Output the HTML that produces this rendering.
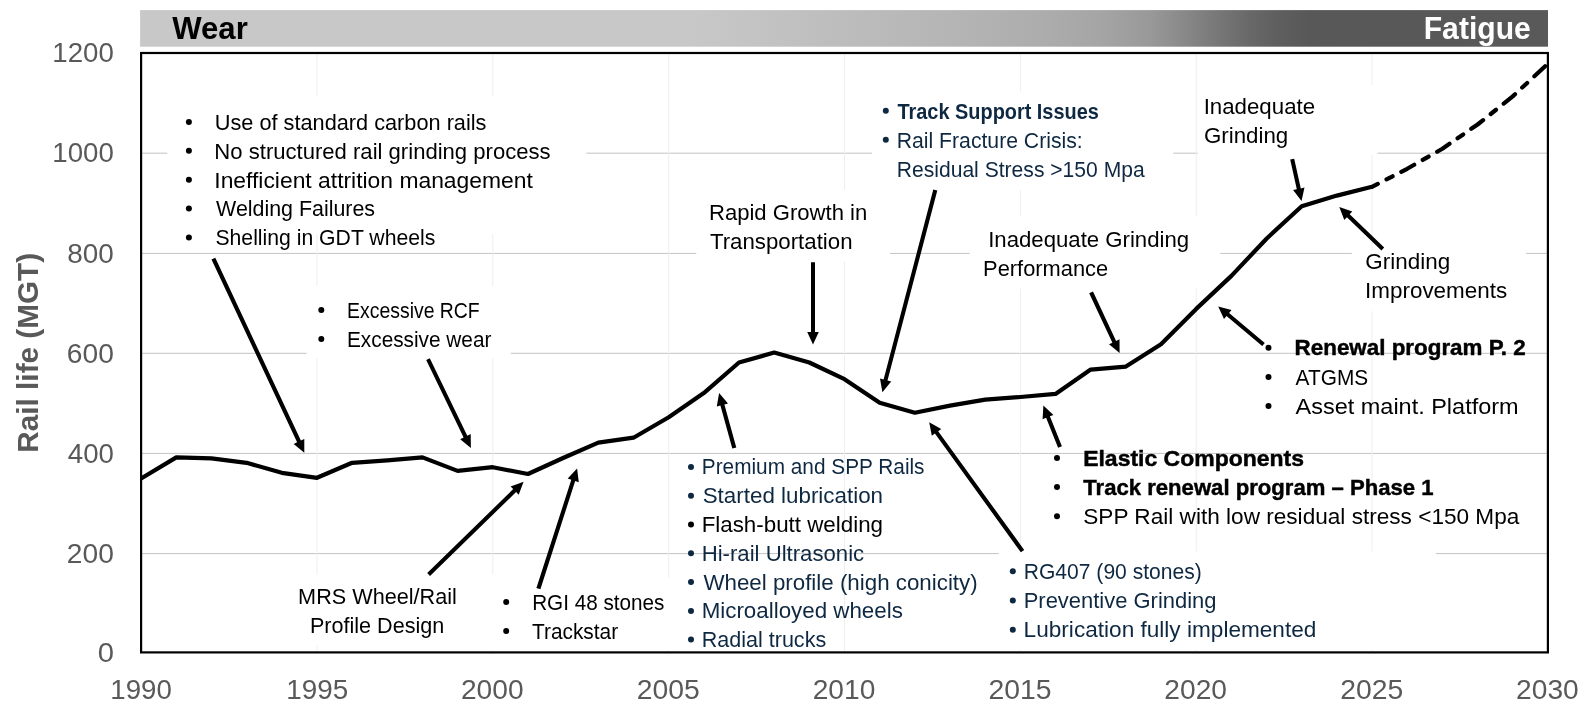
<!DOCTYPE html>
<html lang="en"><head><meta charset="utf-8"><title>Rail life chart</title>
<style>html,body{margin:0;padding:0;background:#fff}body{width:1593px;height:711px;overflow:hidden;font-family:"Liberation Sans", sans-serif}svg{display:block;will-change:transform}text{font-family:"Liberation Sans", sans-serif;white-space:pre}</style></head><body>
<svg width="1593" height="711" viewBox="0 0 1593 711">
<defs><linearGradient id="g" x1="0" y1="0" x2="1" y2="0">
<stop offset="0.0000" stop-color="#c8c8c8"/>
<stop offset="0.3906" stop-color="#c8c8c8"/>
<stop offset="0.4403" stop-color="#c3c3c3"/>
<stop offset="0.5042" stop-color="#bcbcbc"/>
<stop offset="0.5753" stop-color="#b5b5b5"/>
<stop offset="0.6392" stop-color="#adadad"/>
<stop offset="0.6818" stop-color="#a5a5a5"/>
<stop offset="0.7173" stop-color="#999999"/>
<stop offset="0.7422" stop-color="#888888"/>
<stop offset="0.7628" stop-color="#797979"/>
<stop offset="0.7883" stop-color="#686868"/>
<stop offset="0.8096" stop-color="#5e5e5e"/>
<stop offset="0.8310" stop-color="#585858"/>
<stop offset="1.0000" stop-color="#595959"/>
</linearGradient><clipPath id="cp"><rect x="141.1" y="53.0" width="1406.8" height="599.4"/></clipPath></defs>
<rect width="1593" height="711" fill="#fff"/>
<rect x="140.1" y="10.1" width="1407.9" height="36.6" fill="url(#g)"/>
<g stroke="#c3c3c3" stroke-width="1">
<line x1="141.1" y1="153.2" x2="1547.9" y2="153.2"/>
<line x1="141.1" y1="253.4" x2="1547.9" y2="253.4"/>
<line x1="141.1" y1="353.3" x2="1547.9" y2="353.3"/>
<line x1="141.1" y1="453.4" x2="1547.9" y2="453.4"/>
<line x1="141.1" y1="553.6" x2="1547.9" y2="553.6"/>
</g><g stroke="#eeeeee" stroke-width="1">
<line x1="317.0" y1="53.0" x2="317.0" y2="652.4"/>
<line x1="492.8" y1="53.0" x2="492.8" y2="652.4"/>
<line x1="668.7" y1="53.0" x2="668.7" y2="652.4"/>
<line x1="844.5" y1="53.0" x2="844.5" y2="652.4"/>
<line x1="1020.4" y1="53.0" x2="1020.4" y2="652.4"/>
<line x1="1196.2" y1="53.0" x2="1196.2" y2="652.4"/>
<line x1="1372.0" y1="53.0" x2="1372.0" y2="652.4"/>
</g>
<g fill="#fff">
<rect x="167.4" y="96.0" width="419.0" height="138.0"/>
<rect x="306.5" y="286.3" width="204.3" height="72.2"/>
<rect x="696.3" y="189.6" width="193.7" height="71.9"/>
<rect x="872.0" y="91.4" width="301.2" height="98.7"/>
<rect x="969.6" y="216.5" width="250.7" height="72.1"/>
<rect x="1197.8" y="85.0" width="179.7" height="70.0"/>
<rect x="1351.8" y="250.5" width="174.4" height="60.8"/>
<rect x="998.8" y="551.8" width="437.2" height="97.8"/>
<rect x="286.0" y="574.6" width="214.0" height="70.4"/>
<rect x="490.0" y="577.7" width="192.0" height="72.3"/>
</g>
<polyline points="141.1,478.5 176.3,457.4 211.4,458.4 246.6,462.8 281.8,472.8 317.0,477.8 352.1,462.8 387.3,460.3 422.5,457.4 457.6,470.9 492.8,467.2 528.0,474.0 563.1,458.0 598.3,442.6 633.5,437.7 668.7,417.3 703.8,393.1 739.0,362.5 774.2,352.6 809.3,362.5 844.5,379.2 879.7,402.8 914.8,412.7 950.0,405.6 985.2,399.6 1020.4,397.0 1055.5,393.9 1090.7,369.6 1125.9,366.6 1161.0,344.3 1196.2,308.9 1231.4,275.9 1266.5,238.7 1301.7,206.3 1336.9,195.6 1372.0,186.8" fill="none" stroke="#000" stroke-width="4.2" stroke-linejoin="round" stroke-linecap="butt"/>
<polyline points="1372.0,186.8 1407.2,168.8 1442.4,148.7 1477.6,124.5 1512.7,96.4 1547.9,63.7" fill="none" stroke="#000" stroke-width="4.2" stroke-linejoin="round" stroke-linecap="round" stroke-dasharray="6.5 9.8 6.8 9.8 14.7 9.8 6.8 9.8 14.7 9.8 6.8 9.8 14.7 9.8 6.8 9.8 14.7 9.8 6.8 9.8 14.7 9.8 6.8 9.8 14.7 9.8" clip-path="url(#cp)"/>
<rect x="141.1" y="53.0" width="1406.8" height="599.4" fill="none" stroke="#000" stroke-width="2.2"/>
<g fill="#000" stroke="none">
<polygon points="211.5,259.5 297.1,442.3 293.7,443.9 304.3,452.8 304.3,439.0 300.9,440.6 215.3,257.7"/>
<polygon points="426.2,360.0 463.6,437.5 460.2,439.2 470.9,447.9 470.7,434.1 467.3,435.8 429.8,358.2"/>
<polygon points="430.0,576.1 516.1,492.0 518.7,494.7 523.6,481.8 510.6,486.4 513.2,489.1 427.2,573.1"/>
<polygon points="540.4,589.2 575.2,481.0 578.8,482.2 577.1,468.5 567.7,478.6 571.3,479.8 536.4,588.0"/>
<polygon points="736.3,447.6 724.4,404.5 728.0,403.5 719.1,393.0 716.8,406.6 720.4,405.6 732.3,448.6"/>
<polygon points="811.0,262.3 811.0,331.9 807.2,331.9 813.0,344.4 818.8,331.9 815.0,331.9 815.0,262.3"/>
<polygon points="933.3,189.5 883.6,379.6 880.0,378.6 882.4,392.2 891.2,381.6 887.5,380.6 937.3,190.5"/>
<polygon points="1024.2,549.9 938.2,431.2 941.2,429.0 929.2,422.3 931.8,435.8 934.9,433.6 1020.8,552.3"/>
<polygon points="1061.9,446.2 1049.9,416.3 1053.4,414.9 1043.4,405.4 1042.6,419.2 1046.1,417.8 1058.1,447.8"/>
<polygon points="1089.2,293.3 1112.4,342.7 1109.0,344.3 1119.6,353.1 1119.5,339.3 1116.1,340.9 1093.0,291.5"/>
<polygon points="1290.2,159.5 1296.8,189.3 1293.1,190.1 1301.5,201.1 1304.5,187.6 1300.8,188.5 1294.2,158.7"/>
<polygon points="1384.2,247.5 1349.7,214.2 1352.3,211.5 1339.3,207.0 1344.3,219.9 1346.9,217.2 1381.4,250.5"/>
<polygon points="1264.8,342.9 1229.1,313.0 1231.5,310.1 1218.2,306.5 1224.0,319.0 1226.5,316.1 1262.2,346.1"/>
</g>
<circle cx="188.9" cy="121.9" r="3.0" fill="#000"/>
<circle cx="188.9" cy="150.8" r="3.0" fill="#000"/>
<circle cx="188.9" cy="179.7" r="3.0" fill="#000"/>
<circle cx="188.9" cy="208.6" r="3.0" fill="#000"/>
<circle cx="188.9" cy="237.5" r="3.0" fill="#000"/>
<circle cx="321.3" cy="310.1" r="3.0" fill="#000"/>
<circle cx="321.3" cy="338.9" r="3.0" fill="#000"/>
<circle cx="885.8" cy="110.8" r="3.0" fill="#0E2841"/>
<circle cx="885.8" cy="139.8" r="3.0" fill="#0E2841"/>
<circle cx="1268.5" cy="347.8" r="3.0" fill="#000"/>
<circle cx="1268.5" cy="377.0" r="3.0" fill="#000"/>
<circle cx="1268.5" cy="406.0" r="3.0" fill="#000"/>
<circle cx="1057.0" cy="458.0" r="3.0" fill="#000"/>
<circle cx="1057.0" cy="487.1" r="3.0" fill="#000"/>
<circle cx="1057.0" cy="516.2" r="3.0" fill="#000"/>
<circle cx="691.0" cy="466.9" r="3.0" fill="#0E2841"/>
<circle cx="691.0" cy="495.7" r="3.0" fill="#0E2841"/>
<circle cx="691.0" cy="524.5" r="3.0" fill="#000"/>
<circle cx="691.0" cy="553.3" r="3.0" fill="#0E2841"/>
<circle cx="691.0" cy="582.1" r="3.0" fill="#0E2841"/>
<circle cx="691.0" cy="610.9" r="3.0" fill="#0E2841"/>
<circle cx="691.0" cy="639.6" r="3.0" fill="#0E2841"/>
<circle cx="1012.8" cy="571.2" r="3.0" fill="#0E2841"/>
<circle cx="1012.8" cy="600.4" r="3.0" fill="#0E2841"/>
<circle cx="1012.8" cy="629.7" r="3.0" fill="#0E2841"/>
<circle cx="506.2" cy="601.9" r="3.0" fill="#000"/>
<circle cx="506.2" cy="631.0" r="3.0" fill="#000"/>
<text x="172.20" y="39.0" font-size="30.8" font-weight="bold" fill="#000" textLength="75.64" lengthAdjust="spacingAndGlyphs">Wear</text>
<text x="1423.72" y="39.0" font-size="30.8" font-weight="bold" fill="#fff" textLength="107.13" lengthAdjust="spacingAndGlyphs">Fatigue</text>
<text x="214.74" y="130.0" font-size="21.2" fill="#000" textLength="271.74" lengthAdjust="spacingAndGlyphs">Use of standard carbon rails</text>
<text x="214.38" y="159.0" font-size="21.2" fill="#000" textLength="336.21" lengthAdjust="spacingAndGlyphs">No structured rail grinding process</text>
<text x="214.31" y="188.0" font-size="21.2" fill="#000" textLength="318.51" lengthAdjust="spacingAndGlyphs">Inefficient attrition management</text>
<text x="216.10" y="216.0" font-size="21.2" fill="#000" textLength="158.97" lengthAdjust="spacingAndGlyphs">Welding Failures</text>
<text x="215.44" y="245.0" font-size="21.2" fill="#000" textLength="219.92" lengthAdjust="spacingAndGlyphs">Shelling in GDT wheels</text>
<text x="347.08" y="318.0" font-size="21.2" fill="#000" textLength="132.65" lengthAdjust="spacingAndGlyphs">Excessive RCF</text>
<text x="346.98" y="347.0" font-size="21.2" fill="#000" textLength="144.43" lengthAdjust="spacingAndGlyphs">Excessive wear</text>
<text x="708.98" y="220.0" font-size="21.2" fill="#000" textLength="158.26" lengthAdjust="spacingAndGlyphs">Rapid Growth in</text>
<text x="709.95" y="249.0" font-size="21.2" fill="#000" textLength="142.60" lengthAdjust="spacingAndGlyphs">Transportation</text>
<text x="897.50" y="119.0" font-size="21.2" font-weight="bold" fill="#0E2841" textLength="201.31" lengthAdjust="spacingAndGlyphs">Track Support Issues</text>
<text x="896.75" y="148.0" font-size="21.2" fill="#0E2841" textLength="185.97" lengthAdjust="spacingAndGlyphs">Rail Fracture Crisis:</text>
<text x="896.75" y="177.0" font-size="21.2" fill="#0E2841" textLength="247.91" lengthAdjust="spacingAndGlyphs">Residual Stress &gt;150 Mpa</text>
<text x="988.17" y="247.0" font-size="21.2" fill="#000" textLength="200.98" lengthAdjust="spacingAndGlyphs">Inadequate Grinding</text>
<text x="983.09" y="276.0" font-size="21.2" fill="#000" textLength="125.09" lengthAdjust="spacingAndGlyphs">Performance</text>
<text x="1203.66" y="114.0" font-size="21.2" fill="#000" textLength="111.44" lengthAdjust="spacingAndGlyphs">Inadequate</text>
<text x="1203.95" y="143.0" font-size="21.2" fill="#000" textLength="84.30" lengthAdjust="spacingAndGlyphs">Grinding</text>
<text x="1365.35" y="269.0" font-size="21.2" fill="#000" textLength="84.81" lengthAdjust="spacingAndGlyphs">Grinding</text>
<text x="1365.05" y="298.0" font-size="21.2" fill="#000" textLength="142.15" lengthAdjust="spacingAndGlyphs">Improvements</text>
<text x="1294.60" y="355.0" font-size="22.2" font-weight="bold" stroke="#000" stroke-width="0.45" fill="#000" textLength="231.06" lengthAdjust="spacingAndGlyphs">Renewal program P. 2</text>
<text x="1295.60" y="385.0" font-size="22.2" fill="#000" textLength="72.58" lengthAdjust="spacingAndGlyphs">ATGMS</text>
<text x="1295.60" y="414.0" font-size="22.2" fill="#000" textLength="223.01" lengthAdjust="spacingAndGlyphs">Asset maint. Platform</text>
<text x="1083.16" y="466.0" font-size="22.2" font-weight="bold" stroke="#000" stroke-width="0.45" fill="#000" textLength="220.87" lengthAdjust="spacingAndGlyphs">Elastic Components</text>
<text x="1083.30" y="495.0" font-size="22.2" font-weight="bold" stroke="#000" stroke-width="0.45" fill="#000" textLength="350.25" lengthAdjust="spacingAndGlyphs">Track renewal program – Phase 1</text>
<text x="1083.29" y="524.0" font-size="22.2" fill="#000" textLength="436.06" lengthAdjust="spacingAndGlyphs">SPP Rail with low residual stress &lt;150 Mpa</text>
<text x="701.78" y="474.0" font-size="21.2" fill="#0E2841" textLength="222.77" lengthAdjust="spacingAndGlyphs">Premium and SPP Rails</text>
<text x="702.70" y="503.0" font-size="21.2" fill="#0E2841" textLength="180.36" lengthAdjust="spacingAndGlyphs">Started lubrication</text>
<text x="701.65" y="532.0" font-size="21.2" fill="#000" textLength="181.40" lengthAdjust="spacingAndGlyphs">Flash-butt welding</text>
<text x="701.67" y="561.0" font-size="21.2" fill="#0E2841" textLength="162.48" lengthAdjust="spacingAndGlyphs">Hi-rail Ultrasonic</text>
<text x="703.40" y="590.0" font-size="21.2" fill="#0E2841" textLength="274.26" lengthAdjust="spacingAndGlyphs">Wheel profile (high conicity)</text>
<text x="701.65" y="618.0" font-size="21.2" fill="#0E2841" textLength="201.24" lengthAdjust="spacingAndGlyphs">Microalloyed wheels</text>
<text x="701.72" y="647.0" font-size="21.2" fill="#0E2841" textLength="124.46" lengthAdjust="spacingAndGlyphs">Radial trucks</text>
<text x="1023.75" y="579.0" font-size="21.2" fill="#0E2841" textLength="178.04" lengthAdjust="spacingAndGlyphs">RG407 (90 stones)</text>
<text x="1023.68" y="608.0" font-size="21.2" fill="#0E2841" textLength="192.85" lengthAdjust="spacingAndGlyphs">Preventive Grinding</text>
<text x="1023.63" y="637.0" font-size="21.2" fill="#0E2841" textLength="292.74" lengthAdjust="spacingAndGlyphs">Lubrication fully implemented</text>
<text x="298.11" y="604.0" font-size="21.2" fill="#000" textLength="158.82" lengthAdjust="spacingAndGlyphs">MRS Wheel/Rail</text>
<text x="309.91" y="633.0" font-size="21.2" fill="#000" textLength="134.40" lengthAdjust="spacingAndGlyphs">Profile Design</text>
<text x="532.18" y="610.0" font-size="21.2" fill="#000" textLength="132.26" lengthAdjust="spacingAndGlyphs">RGI 48 stones</text>
<text x="531.97" y="639.0" font-size="21.2" fill="#000" textLength="86.13" lengthAdjust="spacingAndGlyphs">Trackstar</text>
<text x="52.37" y="62.1" font-size="26.8" fill="#595959" textLength="61.52" lengthAdjust="spacingAndGlyphs">1200</text>
<text x="52.37" y="162.4" font-size="26.8" fill="#595959" textLength="61.52" lengthAdjust="spacingAndGlyphs">1000</text>
<text x="67.33" y="262.6" font-size="26.8" fill="#595959" textLength="46.57" lengthAdjust="spacingAndGlyphs">800</text>
<text x="66.88" y="362.5" font-size="26.8" fill="#595959" textLength="47.02" lengthAdjust="spacingAndGlyphs">600</text>
<text x="67.77" y="462.6" font-size="26.8" fill="#595959" textLength="46.12" lengthAdjust="spacingAndGlyphs">400</text>
<text x="66.88" y="562.8" font-size="26.8" fill="#595959" textLength="47.02" lengthAdjust="spacingAndGlyphs">200</text>
<text x="97.69" y="661.8" font-size="26.8" fill="#595959" textLength="16.24" lengthAdjust="spacingAndGlyphs">0</text>
<text x="110.37" y="698.7" font-size="26.8" fill="#595959" textLength="61.52" lengthAdjust="spacingAndGlyphs">1990</text>
<text x="286.21" y="698.7" font-size="26.8" fill="#595959" textLength="61.97" lengthAdjust="spacingAndGlyphs">1995</text>
<text x="460.98" y="698.7" font-size="26.8" fill="#595959" textLength="62.62" lengthAdjust="spacingAndGlyphs">2000</text>
<text x="636.82" y="698.7" font-size="26.8" fill="#595959" textLength="63.08" lengthAdjust="spacingAndGlyphs">2005</text>
<text x="812.68" y="698.7" font-size="26.8" fill="#595959" textLength="62.62" lengthAdjust="spacingAndGlyphs">2010</text>
<text x="988.52" y="698.7" font-size="26.8" fill="#595959" textLength="63.08" lengthAdjust="spacingAndGlyphs">2015</text>
<text x="1164.38" y="698.7" font-size="26.8" fill="#595959" textLength="62.62" lengthAdjust="spacingAndGlyphs">2020</text>
<text x="1340.22" y="698.7" font-size="26.8" fill="#595959" textLength="63.08" lengthAdjust="spacingAndGlyphs">2025</text>
<text x="1516.08" y="698.7" font-size="26.8" fill="#595959" textLength="62.62" lengthAdjust="spacingAndGlyphs">2030</text>
<text transform="translate(38.4 452.66) rotate(-90)" font-size="30.0" font-weight="bold" fill="#595959" textLength="199.83" lengthAdjust="spacingAndGlyphs">Rail life (MGT)</text>
</svg></body></html>
